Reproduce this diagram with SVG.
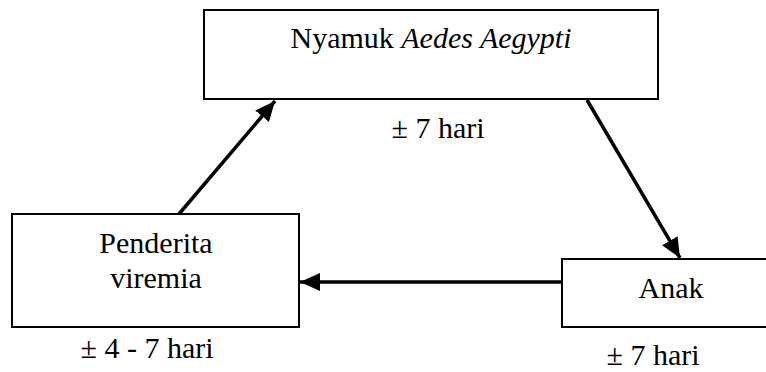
<svg xmlns="http://www.w3.org/2000/svg" width="766" height="372" viewBox="0 0 766 372">
  <style>
    .box { fill: #fff; stroke: #000; stroke-width: 2; }
    .t { font-family: "Liberation Serif", "DejaVu Serif", serif; font-size: 30px; fill: #000; text-anchor: middle; }
    .it { font-style: italic; }
    .con { stroke: #000; stroke-width: 3.5; fill: none; marker-end: url(#ah); }
  </style>
  <defs>
    <marker id="ah" markerUnits="userSpaceOnUse" markerWidth="22" markerHeight="18" refX="20" refY="9" orient="auto">
      <path d="M0,0 L20,9 L0,18 Z" fill="#000"/>
    </marker>
  </defs>
  <rect width="766" height="372" fill="#fff"/>
  <g id="connectors">
    <line class="con" x1="179" y1="214" x2="275" y2="101"/>
    <line class="con" x1="587" y1="100" x2="680" y2="258"/>
    <line class="con" x1="562" y1="282" x2="300" y2="282"/>
  </g>
  <g id="nyamuk">
    <rect class="box" x="204" y="10" width="454" height="89"/>
    <text class="t" x="431" y="48">Nyamuk <tspan class="it">Aedes Aegypti</tspan></text>
  </g>
  <g id="label-top">
    <text class="t" x="438" y="138">± 7 hari</text>
  </g>
  <g id="penderita">
    <rect class="box" x="12" y="214" width="287" height="113"/>
    <text class="t" x="156" y="253">Penderita</text>
    <text class="t" x="156" y="288">viremia</text>
  </g>
  <g id="label-left">
    <text class="t" x="147" y="358">± 4 - 7 hari</text>
  </g>
  <g id="anak">
    <rect class="box" x="562" y="259" width="220" height="68"/>
    <text class="t" x="671" y="298">Anak</text>
  </g>
  <g id="label-right">
    <text class="t" x="653" y="365">± 7 hari</text>
  </g>
</svg>
